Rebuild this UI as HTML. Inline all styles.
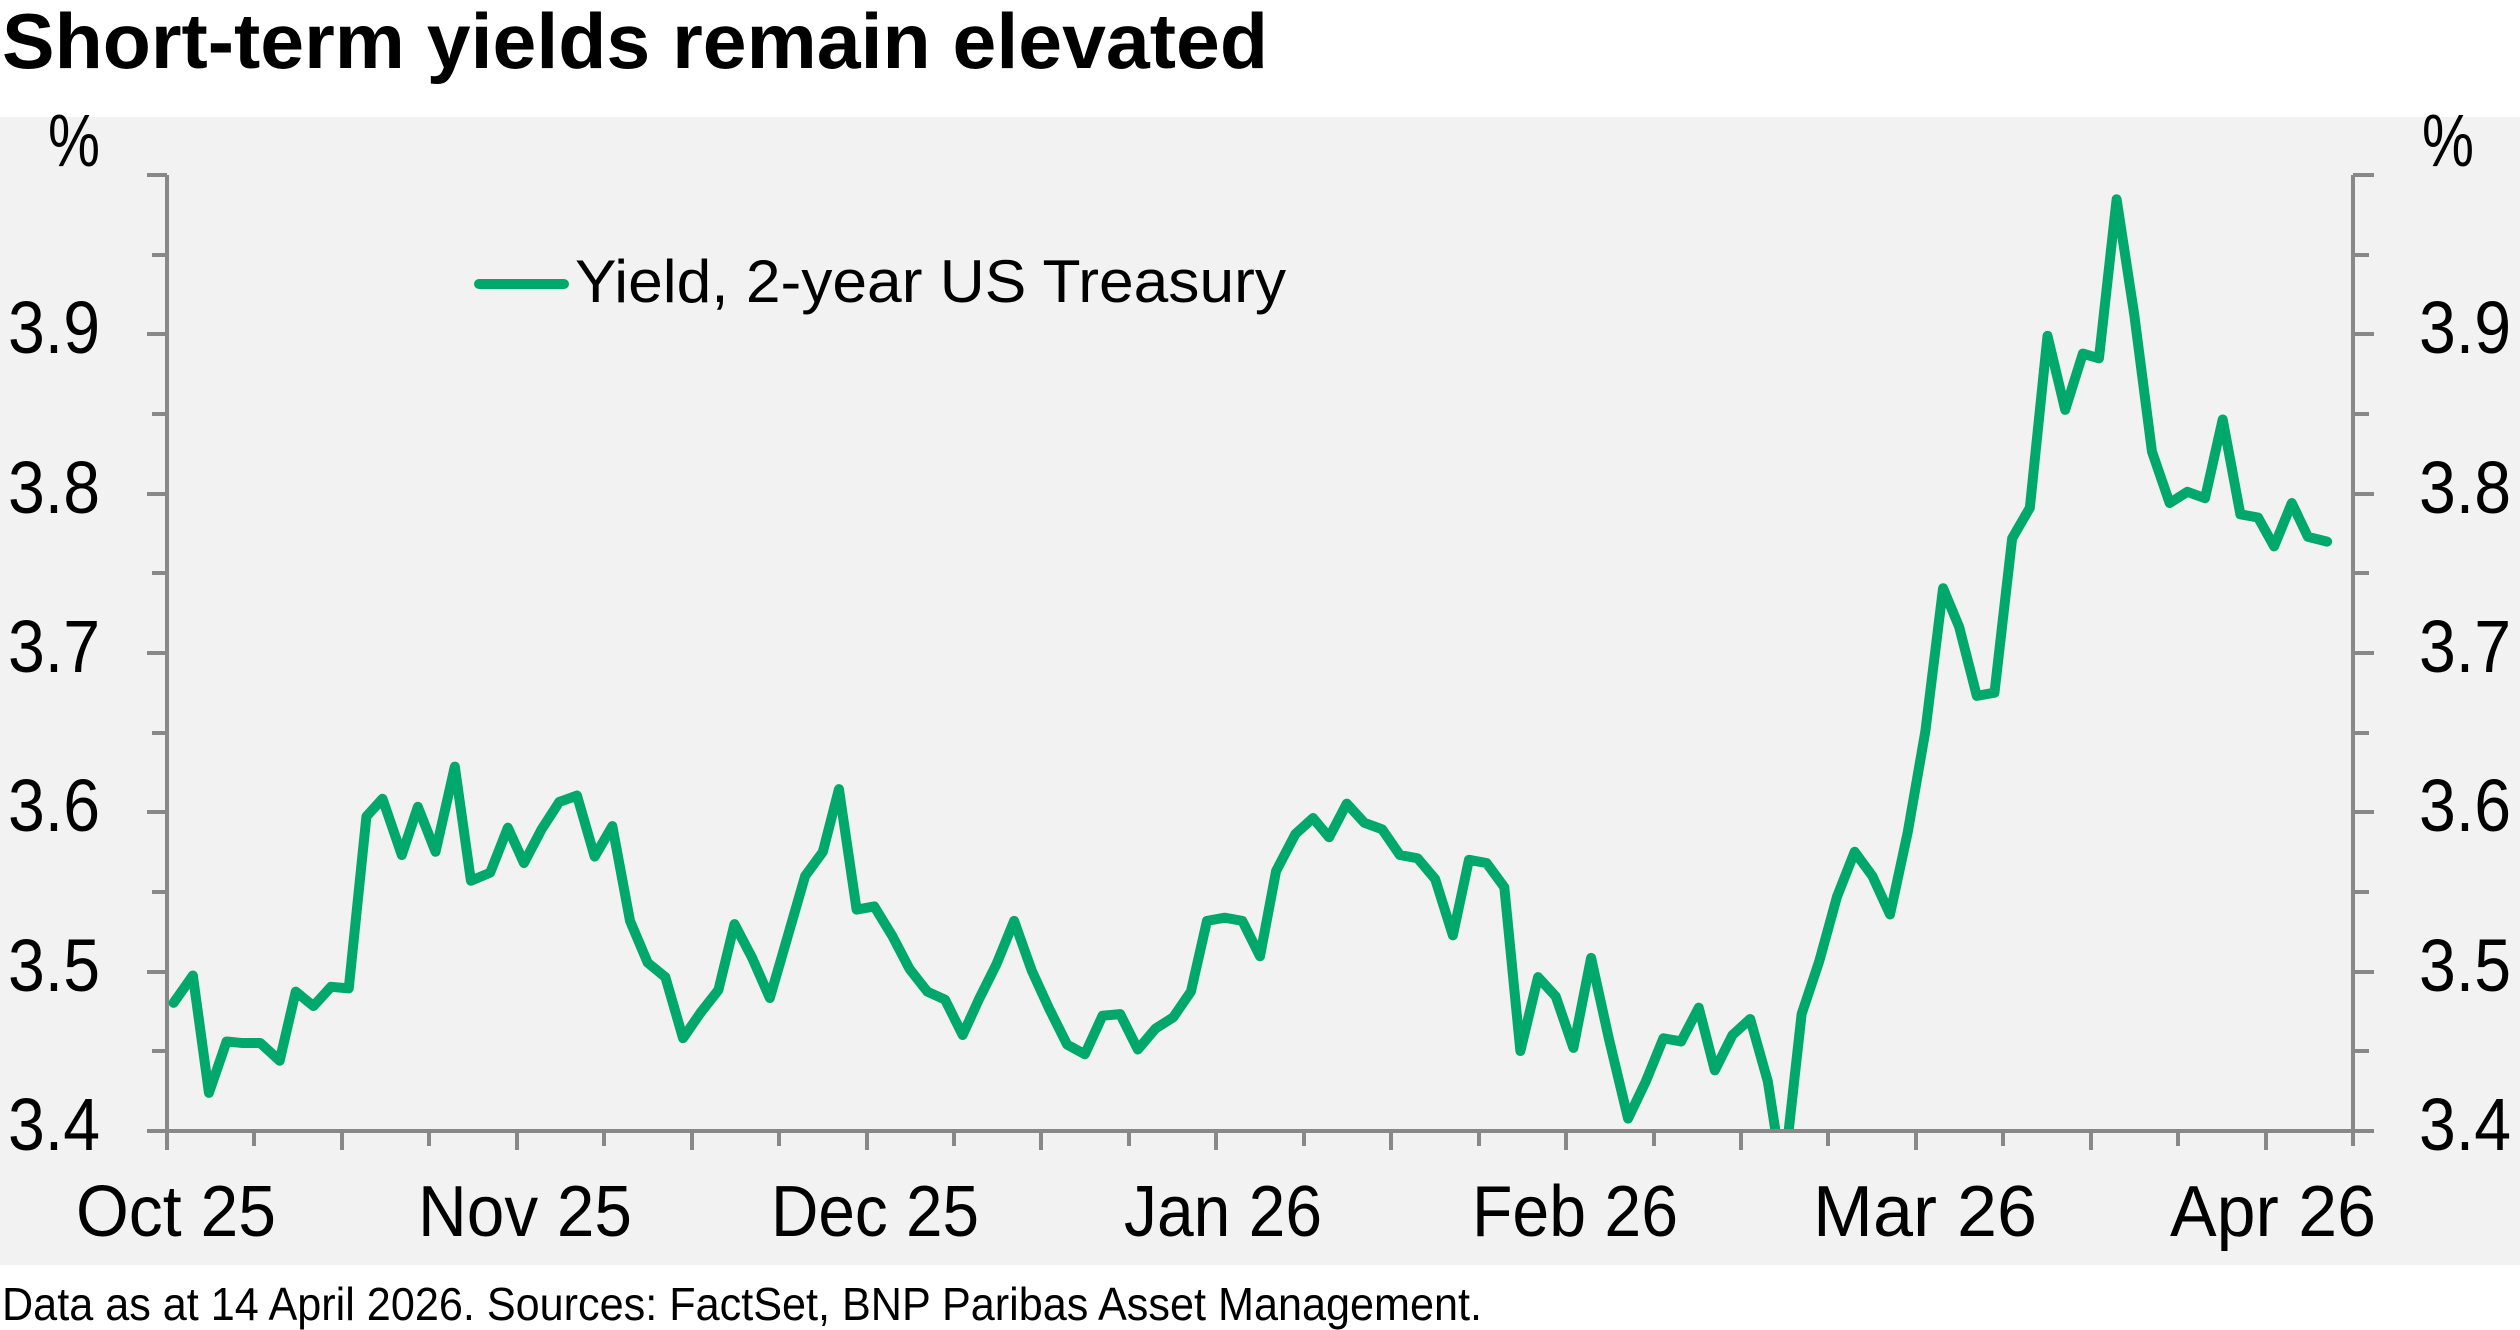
<!DOCTYPE html>
<html><head><meta charset="utf-8"><style>
html,body{margin:0;padding:0;background:#fff;}
svg{display:block;}
</style></head><body>
<svg width="2520" height="1330" viewBox="0 0 2520 1330" xmlns="http://www.w3.org/2000/svg" font-family="Liberation Sans, sans-serif">
<rect x="0" y="0" width="2520" height="1330" fill="#fff"/>
<rect x="0" y="117" width="2520" height="1148" fill="#f2f2f2"/>
<text x="2" y="68" font-size="78" font-weight="bold" fill="#000" textLength="1266" lengthAdjust="spacingAndGlyphs">Short-term yields remain elevated</text>
<text x="2" y="1320" font-size="46" fill="#000" textLength="1480" lengthAdjust="spacingAndGlyphs">Data as at 14 April 2026. Sources: FactSet, BNP Paribas Asset Management.</text>
<g stroke="#888" stroke-width="4" fill="none">
<line x1="167" y1="175" x2="167" y2="1131"/>
<line x1="2353" y1="175" x2="2353" y2="1131"/>
<line x1="147" y1="1131" x2="2353" y2="1131"/>
<line x1="147" y1="175" x2="167" y2="175"/><line x1="152" y1="255" x2="167" y2="255"/>
<line x1="147" y1="334" x2="167" y2="334"/><line x1="152" y1="414" x2="167" y2="414"/>
<line x1="147" y1="494" x2="167" y2="494"/><line x1="152" y1="573" x2="167" y2="573"/>
<line x1="147" y1="653" x2="167" y2="653"/><line x1="152" y1="733" x2="167" y2="733"/>
<line x1="147" y1="812" x2="167" y2="812"/><line x1="152" y1="892" x2="167" y2="892"/>
<line x1="147" y1="972" x2="167" y2="972"/><line x1="152" y1="1051" x2="167" y2="1051"/>
<line x1="2353" y1="175" x2="2374" y2="175"/><line x1="2353" y1="255" x2="2369" y2="255"/>
<line x1="2353" y1="334" x2="2374" y2="334"/><line x1="2353" y1="414" x2="2369" y2="414"/>
<line x1="2353" y1="494" x2="2374" y2="494"/><line x1="2353" y1="573" x2="2369" y2="573"/>
<line x1="2353" y1="653" x2="2374" y2="653"/><line x1="2353" y1="733" x2="2369" y2="733"/>
<line x1="2353" y1="812" x2="2374" y2="812"/><line x1="2353" y1="892" x2="2369" y2="892"/>
<line x1="2353" y1="972" x2="2374" y2="972"/><line x1="2353" y1="1051" x2="2369" y2="1051"/>
<line x1="2353" y1="1131" x2="2374" y2="1131"/>
</g>
<g font-size="74" fill="#000">
<text x="48" y="166" textLength="52" lengthAdjust="spacingAndGlyphs">%</text>
<text x="2422" y="166" textLength="52" lengthAdjust="spacingAndGlyphs">%</text>
<text x="8" y="353" textLength="92" lengthAdjust="spacingAndGlyphs">3.9</text>
<text x="8" y="513" textLength="92" lengthAdjust="spacingAndGlyphs">3.8</text>
<text x="8" y="672" textLength="92" lengthAdjust="spacingAndGlyphs">3.7</text>
<text x="8" y="831" textLength="92" lengthAdjust="spacingAndGlyphs">3.6</text>
<text x="8" y="991" textLength="92" lengthAdjust="spacingAndGlyphs">3.5</text>
<text x="8" y="1150" textLength="92" lengthAdjust="spacingAndGlyphs">3.4</text>
<text x="2419" y="353" textLength="92" lengthAdjust="spacingAndGlyphs">3.9</text>
<text x="2419" y="513" textLength="92" lengthAdjust="spacingAndGlyphs">3.8</text>
<text x="2419" y="672" textLength="92" lengthAdjust="spacingAndGlyphs">3.7</text>
<text x="2419" y="831" textLength="92" lengthAdjust="spacingAndGlyphs">3.6</text>
<text x="2419" y="991" textLength="92" lengthAdjust="spacingAndGlyphs">3.5</text>
<text x="2419" y="1150" textLength="92" lengthAdjust="spacingAndGlyphs">3.4</text>
</g>
<g font-size="72" fill="#000" text-anchor="middle">
<text x="176" y="1236" textLength="200" lengthAdjust="spacingAndGlyphs">Oct 25</text>
<text x="525" y="1236" textLength="214" lengthAdjust="spacingAndGlyphs">Nov 25</text>
<text x="875" y="1236" textLength="208" lengthAdjust="spacingAndGlyphs">Dec 25</text>
<text x="1223" y="1236" textLength="198" lengthAdjust="spacingAndGlyphs">Jan 26</text>
<text x="1575" y="1236" textLength="206" lengthAdjust="spacingAndGlyphs">Feb 26</text>
<text x="1925" y="1236" textLength="224" lengthAdjust="spacingAndGlyphs">Mar 26</text>
<text x="2273" y="1236" textLength="206" lengthAdjust="spacingAndGlyphs">Apr 26</text>
</g>
<line x1="479" y1="284" x2="564" y2="284" stroke="#00a86b" stroke-width="10" stroke-linecap="round"/>
<text x="575" y="302" font-size="60" fill="#000" textLength="711" lengthAdjust="spacingAndGlyphs">Yield, 2-year US Treasury</text>
<defs><clipPath id="c"><rect x="0" y="0" width="2520" height="1129"/></clipPath></defs>
<g clip-path="url(#c)">
<g transform="scale(1.607143)">
<polyline fill="none" stroke="#00a86b" stroke-width="6.2" stroke-linejoin="round" stroke-linecap="round" points="108,624 120,607 130,680 141,648 151,649 162,649 174,660 184,617 195,626 206,614 217,615 228,508 238,497 250,532 260,502 271,530 283,477 293,548 305,543 316,515 326,537 337,516 348,499 359,495 370,533 381,514 392,573 403,599 414,608 425,646 436,630 447,616 457,575 468,596 479,621 490,583 501,545 512,530 522,491 533,566 544,564 555,582 566,603 577,617 588,622 599,644 609,622 620,600 631,573 642,604 653,628 664,650 675,656 686,632 697,631 708,653 719,640 730,633 741,617 751,573 762,571 773,573 784,595 794,542 806,519 817,509 827,521 838,500 849,512 860,516 871,532 882,534 893,547 904,582 914,535 925,537 936,552 946,654 957,608 968,620 979,652 990,596 1001,646 1013,696 1024,673 1035,646 1046,648 1057,627 1067,666 1078,644 1089,634 1100,673 1106,712 1112,712 1121,631 1132,598 1143,558 1154,530 1165,545 1176,569 1187,518 1198,455 1209,366 1219,390 1230,433 1241,431 1252,335 1263,316 1274,209 1285,255 1296,220 1306,223 1317,124 1328,196 1339,281 1350,313 1361,306 1372,310 1383,261 1394,320 1405,322 1415,340 1426,313 1436,334 1448,337"/>
</g>
</g>
<g stroke="#888" stroke-width="4">
<line x1="167" y1="1131" x2="167" y2="1150"/><line x1="254" y1="1131" x2="254" y2="1146"/>
<line x1="342" y1="1131" x2="342" y2="1150"/><line x1="429" y1="1131" x2="429" y2="1146"/>
<line x1="517" y1="1131" x2="517" y2="1150"/><line x1="604" y1="1131" x2="604" y2="1146"/>
<line x1="692" y1="1131" x2="692" y2="1150"/><line x1="779" y1="1131" x2="779" y2="1146"/>
<line x1="867" y1="1131" x2="867" y2="1150"/><line x1="954" y1="1131" x2="954" y2="1146"/>
<line x1="1041" y1="1131" x2="1041" y2="1150"/><line x1="1129" y1="1131" x2="1129" y2="1146"/>
<line x1="1216" y1="1131" x2="1216" y2="1150"/><line x1="1304" y1="1131" x2="1304" y2="1146"/>
<line x1="1391" y1="1131" x2="1391" y2="1150"/><line x1="1479" y1="1131" x2="1479" y2="1146"/>
<line x1="1566" y1="1131" x2="1566" y2="1150"/><line x1="1654" y1="1131" x2="1654" y2="1146"/>
<line x1="1741" y1="1131" x2="1741" y2="1150"/><line x1="1828" y1="1131" x2="1828" y2="1146"/>
<line x1="1916" y1="1131" x2="1916" y2="1150"/><line x1="2003" y1="1131" x2="2003" y2="1146"/>
<line x1="2091" y1="1131" x2="2091" y2="1150"/><line x1="2178" y1="1131" x2="2178" y2="1146"/>
<line x1="2266" y1="1131" x2="2266" y2="1150"/><line x1="2353" y1="1131" x2="2353" y2="1146"/>
</g>
</svg>
</body></html>
